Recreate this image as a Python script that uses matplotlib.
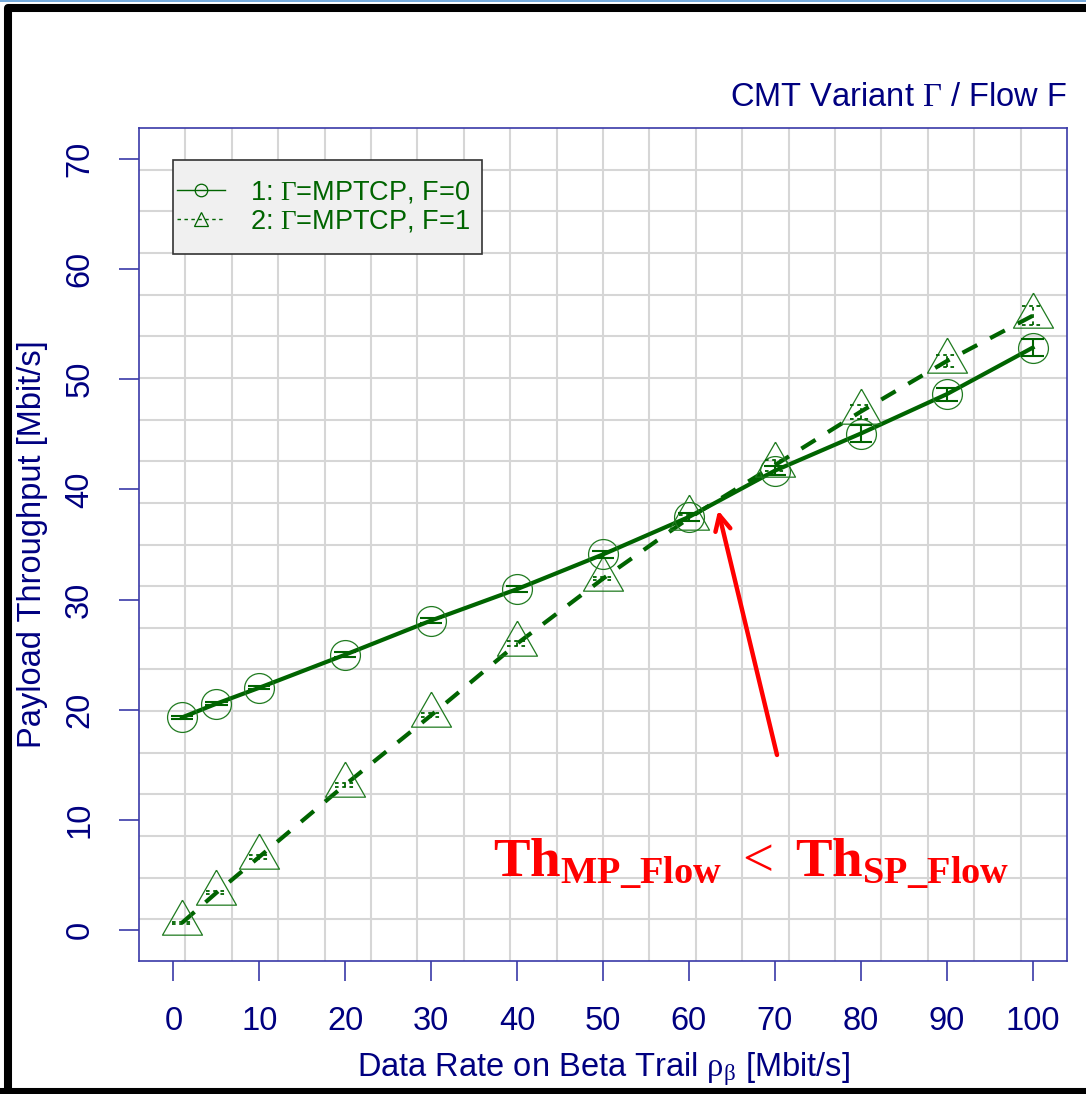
import matplotlib
matplotlib.use('Agg')
import matplotlib.pyplot as plt
from matplotlib.lines import Line2D
from matplotlib.patches import Rectangle
import numpy as np

plt.rcParams['font.family'] = ['Liberation Sans', 'DejaVu Sans']
plt.rcParams['mathtext.fontset'] = 'custom'
plt.rcParams['mathtext.rm'] = 'Liberation Serif'
plt.rcParams['mathtext.it'] = 'Liberation Serif:italic'
plt.rcParams['mathtext.bf'] = 'Liberation Serif:bold'

# data
rate = [1, 5, 10, 20, 30, 40, 50, 60, 70, 80, 90, 100]
thr_f0 = [19.3, 20.55, 22.0, 25.0, 28.1, 30.95, 34.1, 37.5, 41.7, 45.07, 48.64, 52.86]
err_f0 = [0.1, 0.12, 0.15, 0.2, 0.2, 0.25, 0.3, 0.4, 0.4, 0.76, 0.6, 0.75]
thr_f1 = [0.66, 3.39, 6.65, 13.2, 19.5, 26.0, 31.9, 37.4, 42.2, 47.06, 51.64, 55.76]
err_f1 = [0.1, 0.15, 0.2, 0.2, 0.2, 0.2, 0.15, 0.3, 0.5, 0.63, 0.53, 0.86]
labels = [r'1: $\mathrm{\Gamma}$=MPTCP, F=0', r'2: $\mathrm{\Gamma}$=MPTCP, F=1']
xticks = list(range(0, 101, 10))
yticks = list(range(0, 71, 10))

navy = '#000080'
spine = '#3a3aa8'
green = '#006400'
W, H = 1086, 1094

fig = plt.figure(figsize=(W / 100, H / 100), dpi=100)
ax = fig.add_axes([139 / W, 1 - 961 / H, (1067 - 139) / W, (961 - 128) / H])
ax.set_xlim(-4, 104)
ax.set_ylim(-2.8, 72.8)

# R style grid: 20 equal cells
for gx in np.linspace(-4, 104, 21)[1:-1]:
    ax.axvline(gx, color='#d6d6d6', lw=1.5, zorder=0)
for gy in np.linspace(-2.8, 72.8, 21)[1:-1]:
    ax.axhline(gy, color='#d6d6d6', lw=1.5, zorder=0)

# triangle with centroid at the point (R pch=2)
tri = [(0, 2), (-1.714, -1), (1.714, -1), (0, 2)]

ax.plot(rate, thr_f0, color=green, lw=3, zorder=3)
ax.plot(rate, thr_f0, ls='none', marker='o', ms=21.5, mfc='none',
        mec='#1f7a1f', mew=0.9, zorder=4)
ax.plot(rate, thr_f1, color=green, lw=3, dashes=(4, 3.5), zorder=3)
ax.plot(rate, thr_f1, ls='none', marker=tri, ms=33.6, mfc='none',
        mec='#1f7a1f', mew=0.9, zorder=4)

# error bars with caps
r = np.array(rate, dtype=float)
m0, e0 = np.array(thr_f0), np.array(err_f0)
m1, e1 = np.array(thr_f1), np.array(err_f1)
ax.vlines(r, m0 - e0, m0 + e0, color=green, lw=1.5, zorder=5)
ax.hlines(np.r_[m0 - e0, m0 + e0], np.r_[r, r] - 1.3, np.r_[r, r] + 1.3,
          color=green, lw=1.5, zorder=5)
ax.vlines(r, m1 - e1, m1 + e1, color=green, lw=1.3, linestyles=(0, (2, 2)), zorder=5)
ax.hlines(np.r_[m1 - e1, m1 + e1], np.r_[r, r] - 1.2, np.r_[r, r] + 1.2,
          color=green, lw=1.3, linestyles=(0, (2, 2)), zorder=5)

ax.set_xticks(xticks)
ax.set_yticks(yticks)
ax.tick_params(axis='both', colors=spine, length=14.5, width=1.2,
               labelsize=23.5, labelcolor=navy)
ax.tick_params(axis='x', pad=18)
ax.tick_params(axis='y', pad=17)
for t in ax.get_yticklabels():
    t.set_rotation(90)
    t.set_va('center')
for s in ax.spines.values():
    s.set_color(spine)
    s.set_linewidth(1.2)

ax.set_xlabel(r'Data Rate on Beta Trail $\mathrm{\rho_{\beta}}$ [Mbit/s]',
              fontsize=23.5, color=navy, labelpad=9)
ax.set_ylabel('Payload Throughput [Mbit/s]', fontsize=23.5, color=navy, labelpad=12)
ax.set_title(r'CMT Variant $\mathrm{\Gamma}$ / Flow F', loc='right',
             fontsize=23.5, color=navy, pad=16)

# legend box
fig.add_artist(Rectangle((173 / W, 1 - 254 / H), (482 - 173) / W, (254 - 160) / H,
                         transform=fig.transFigure, facecolor='#f0f0f0',
                         edgecolor='#333333', lw=1.2, zorder=6))
handles = [Line2D([], [], color=green, lw=1, marker='o', ms=9, mfc='none', mew=0.9),
           Line2D([], [], color=green, lw=1, ls=(0, (2.5, 2.5)), marker='^', ms=10,
                  mfc='none', mew=0.9)]
leg = fig.legend(handles, labels, loc='center left', frameon=False,
                 bbox_to_anchor=(174 / W, 1 - 207 / H), fontsize=19.5,
                 handlelength=1.8, handletextpad=0.9, labelspacing=0.1,
                 borderpad=0.1, borderaxespad=0)
leg.set_zorder(7)
for t in leg.get_texts():
    t.set_color(green)

# annotation
ax.annotate('', xy=(63.4, 38.1), xytext=(70.25, 15.9),
            arrowprops=dict(arrowstyle='->,head_length=1.1,head_width=0.55',
                            color='red', lw=3.2, shrinkA=0, shrinkB=0), zorder=8)
ax.text(67.2, 5.0, r'$\mathbf{Th}_{\mathbf{MP\_Flow}}\ \mathrm{<}\ \mathbf{Th}_{\mathbf{SP\_Flow}}$',
        color='red', fontsize=39.5, ha='center', va='baseline', zorder=8)

# outer frame of the screenshot
fig.add_artist(Line2D([8 / W, 8 / W, 1.01], [1 - 1092 / H, 1 - 7.5 / H, 1 - 7.5 / H],
                      transform=fig.transFigure, color='black', lw=5.8))
fig.add_artist(Line2D([0, 1.01], [1 - 1092 / H] * 2, transform=fig.transFigure,
                      color='black', lw=5.8))
fig.add_artist(Line2D([0, 1], [1 - 0.5 / H] * 2, transform=fig.transFigure,
                      color='#5b9bd5', lw=1.2))

fig.savefig('out.png', dpi=100)
